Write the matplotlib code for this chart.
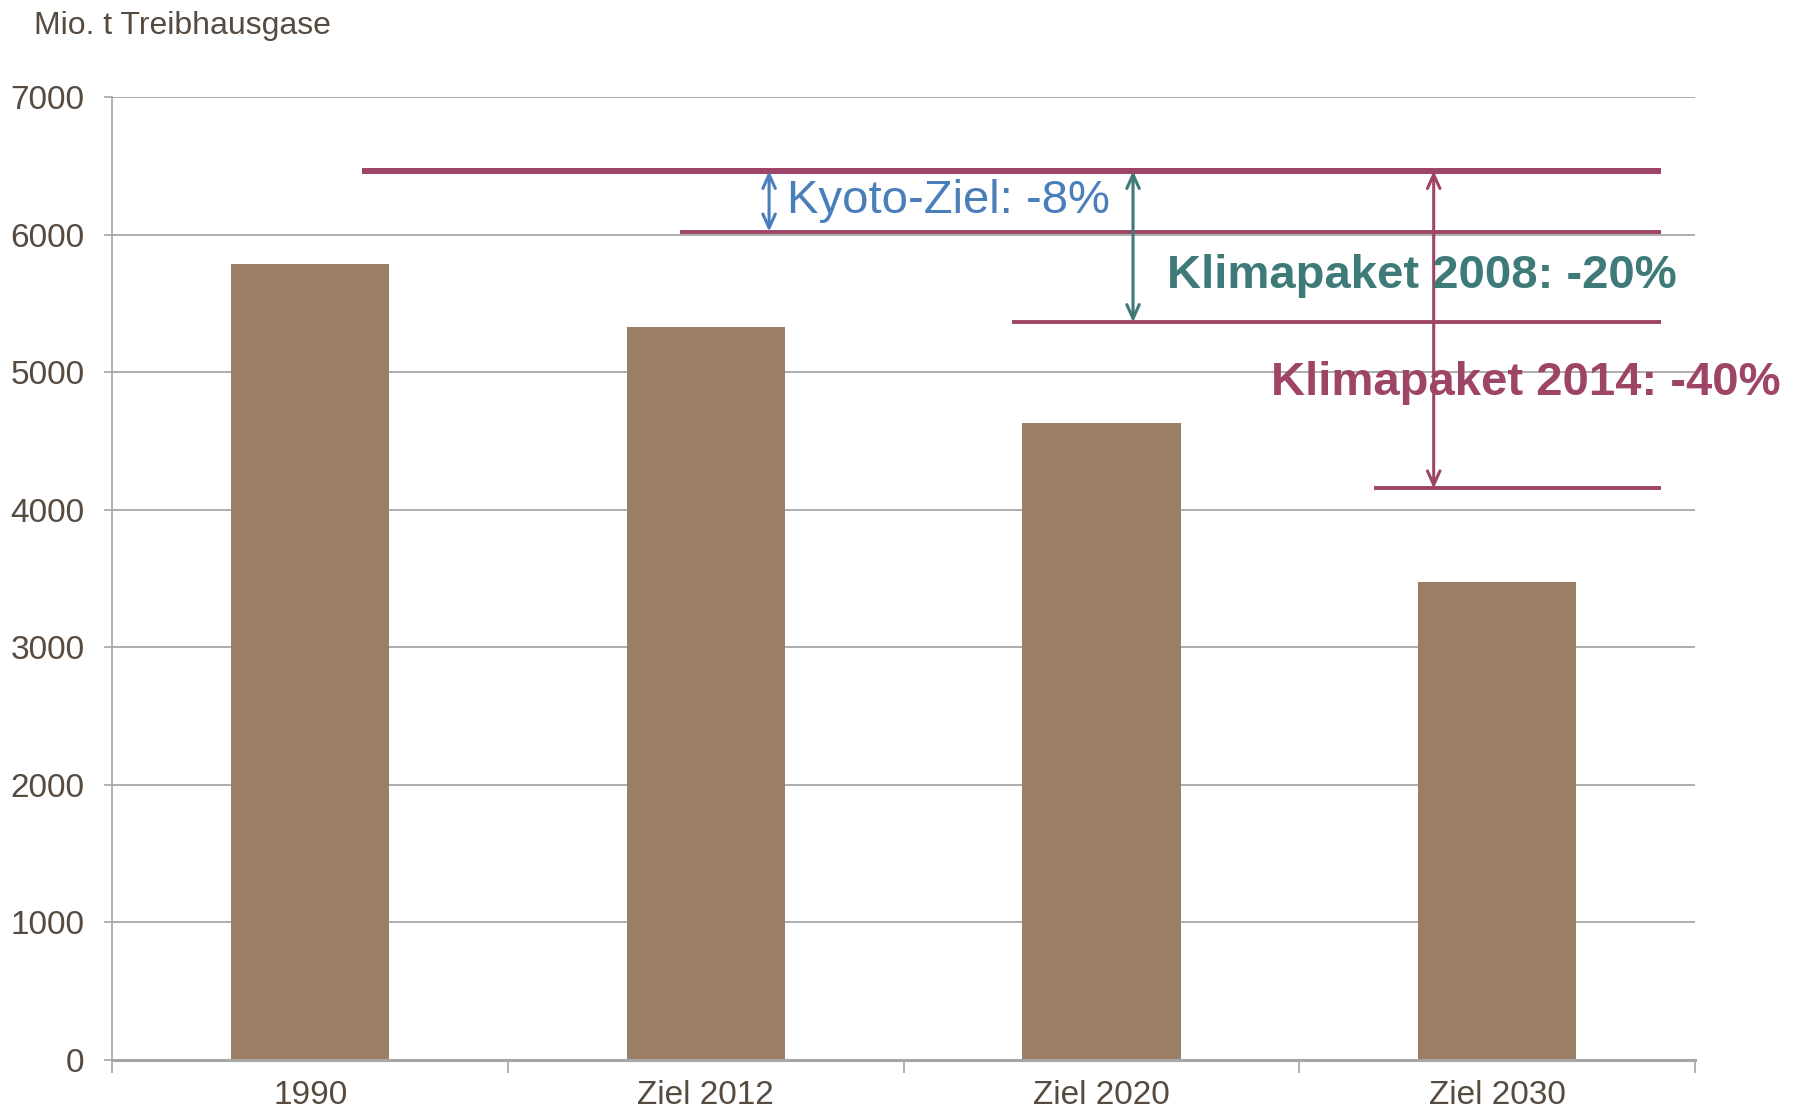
import matplotlib
matplotlib.use("Agg")
import matplotlib.pyplot as plt
import numpy as np

categories = ["1990", "Ziel 2012", "Ziel 2020", "Ziel 2030"]
values = [5790, 5327, 4632, 3474]
yticks = [0, 1000, 2000, 3000, 4000, 5000, 6000, 7000]

# reference lines: (level, x_start, x_end)
ref_levels = [6466, 6024, 5365, 4155]
ref_xstart = [0.13, 0.935, 1.775, 2.69]
ref_xend = [3.415, 3.415, 3.415, 3.415]

# arrows: x, y_from, y_to
arrow_x = [1.16, 2.08, 2.84]
arrow_top = [6466, 6466, 6466]
arrow_bottom = [6024, 5365, 4155]

labels = ["Kyoto-Ziel: -8%", "Klimapaket 2008: -20%", "Klimapaket 2014: -40%"]
label_x = [1.205, 2.165, 2.43]
label_y = [6250, 5700, 4925]

BAR = "#9A7E65"
TXT = "#574A3F"
GRID = "#A6A6A6"
MAG = "#9E4466"
TEAL = "#3E7B78"
BLUE = "#4A7EBB"
arrow_colors = [BLUE, TEAL, MAG]
label_colors = [BLUE, TEAL, MAG]
label_weights = ["normal", "bold", "bold"]

plt.rcParams["font.family"] = ["Liberation Sans", "DejaVu Sans"]

fig = plt.figure(figsize=(17.98, 11.14), dpi=100)
ax = fig.add_axes([0.0625, 0.0489, 0.8801, 0.8636])

x = np.arange(len(categories))
ax.bar(x, values, width=0.4, color=BAR, zorder=2)

ax.set_xlim(-0.5, 3.5)
ax.set_ylim(0, 7000)
ax.set_yticks(yticks)
ax.set_yticklabels([str(v) for v in yticks])
ax.yaxis.grid(True, color=GRID, linewidth=1.3, zorder=0)
ax.set_axisbelow(True)

ax.set_xticks(x)
ax.set_xticklabels(categories)
ax.set_xticks(np.arange(-0.5, 3.6, 1.0), minor=True)
ax.tick_params(axis="x", which="major", length=0, pad=15, labelsize=24, labelcolor=TXT)
ax.tick_params(axis="x", which="minor", length=9, width=1.2, color=GRID, direction="out")
ax.tick_params(axis="y", length=6, width=1.2, color=GRID, pad=14, labelsize=24, labelcolor=TXT)

for s in ["top", "right"]:
    ax.spines[s].set_visible(False)
ax.spines["left"].set_color(GRID)
ax.spines["left"].set_linewidth(1.2)
ax.spines["bottom"].set_color(GRID)
ax.spines["bottom"].set_linewidth(2.2)

for i, (lv, xs, xe) in enumerate(zip(ref_levels, ref_xstart, ref_xend)):
    ax.plot([xs, xe], [lv, lv], color=MAG, linewidth=4.3 if i == 0 else 2.8,
            solid_capstyle="butt", zorder=3)

for xa, yt, yb, c in zip(arrow_x, arrow_top, arrow_bottom, arrow_colors):
    ax.annotate("", xy=(xa, yt), xytext=(xa, yb),
                arrowprops=dict(arrowstyle="<->,head_length=1.0,head_width=0.45",
                                color=c, lw=2.2, shrinkA=0, shrinkB=0), zorder=4)

for t, lx, ly, c, w in zip(labels, label_x, label_y, label_colors, label_weights):
    ax.text(lx, ly, t, color=c, fontsize=34, fontweight=w, va="center", ha="left",
            clip_on=False, zorder=5)

fig.text(0.019, 0.977, "Mio. t Treibhausgase", color=TXT, fontsize=23, va="center", ha="left")

fig.savefig("out.png", dpi=100)
